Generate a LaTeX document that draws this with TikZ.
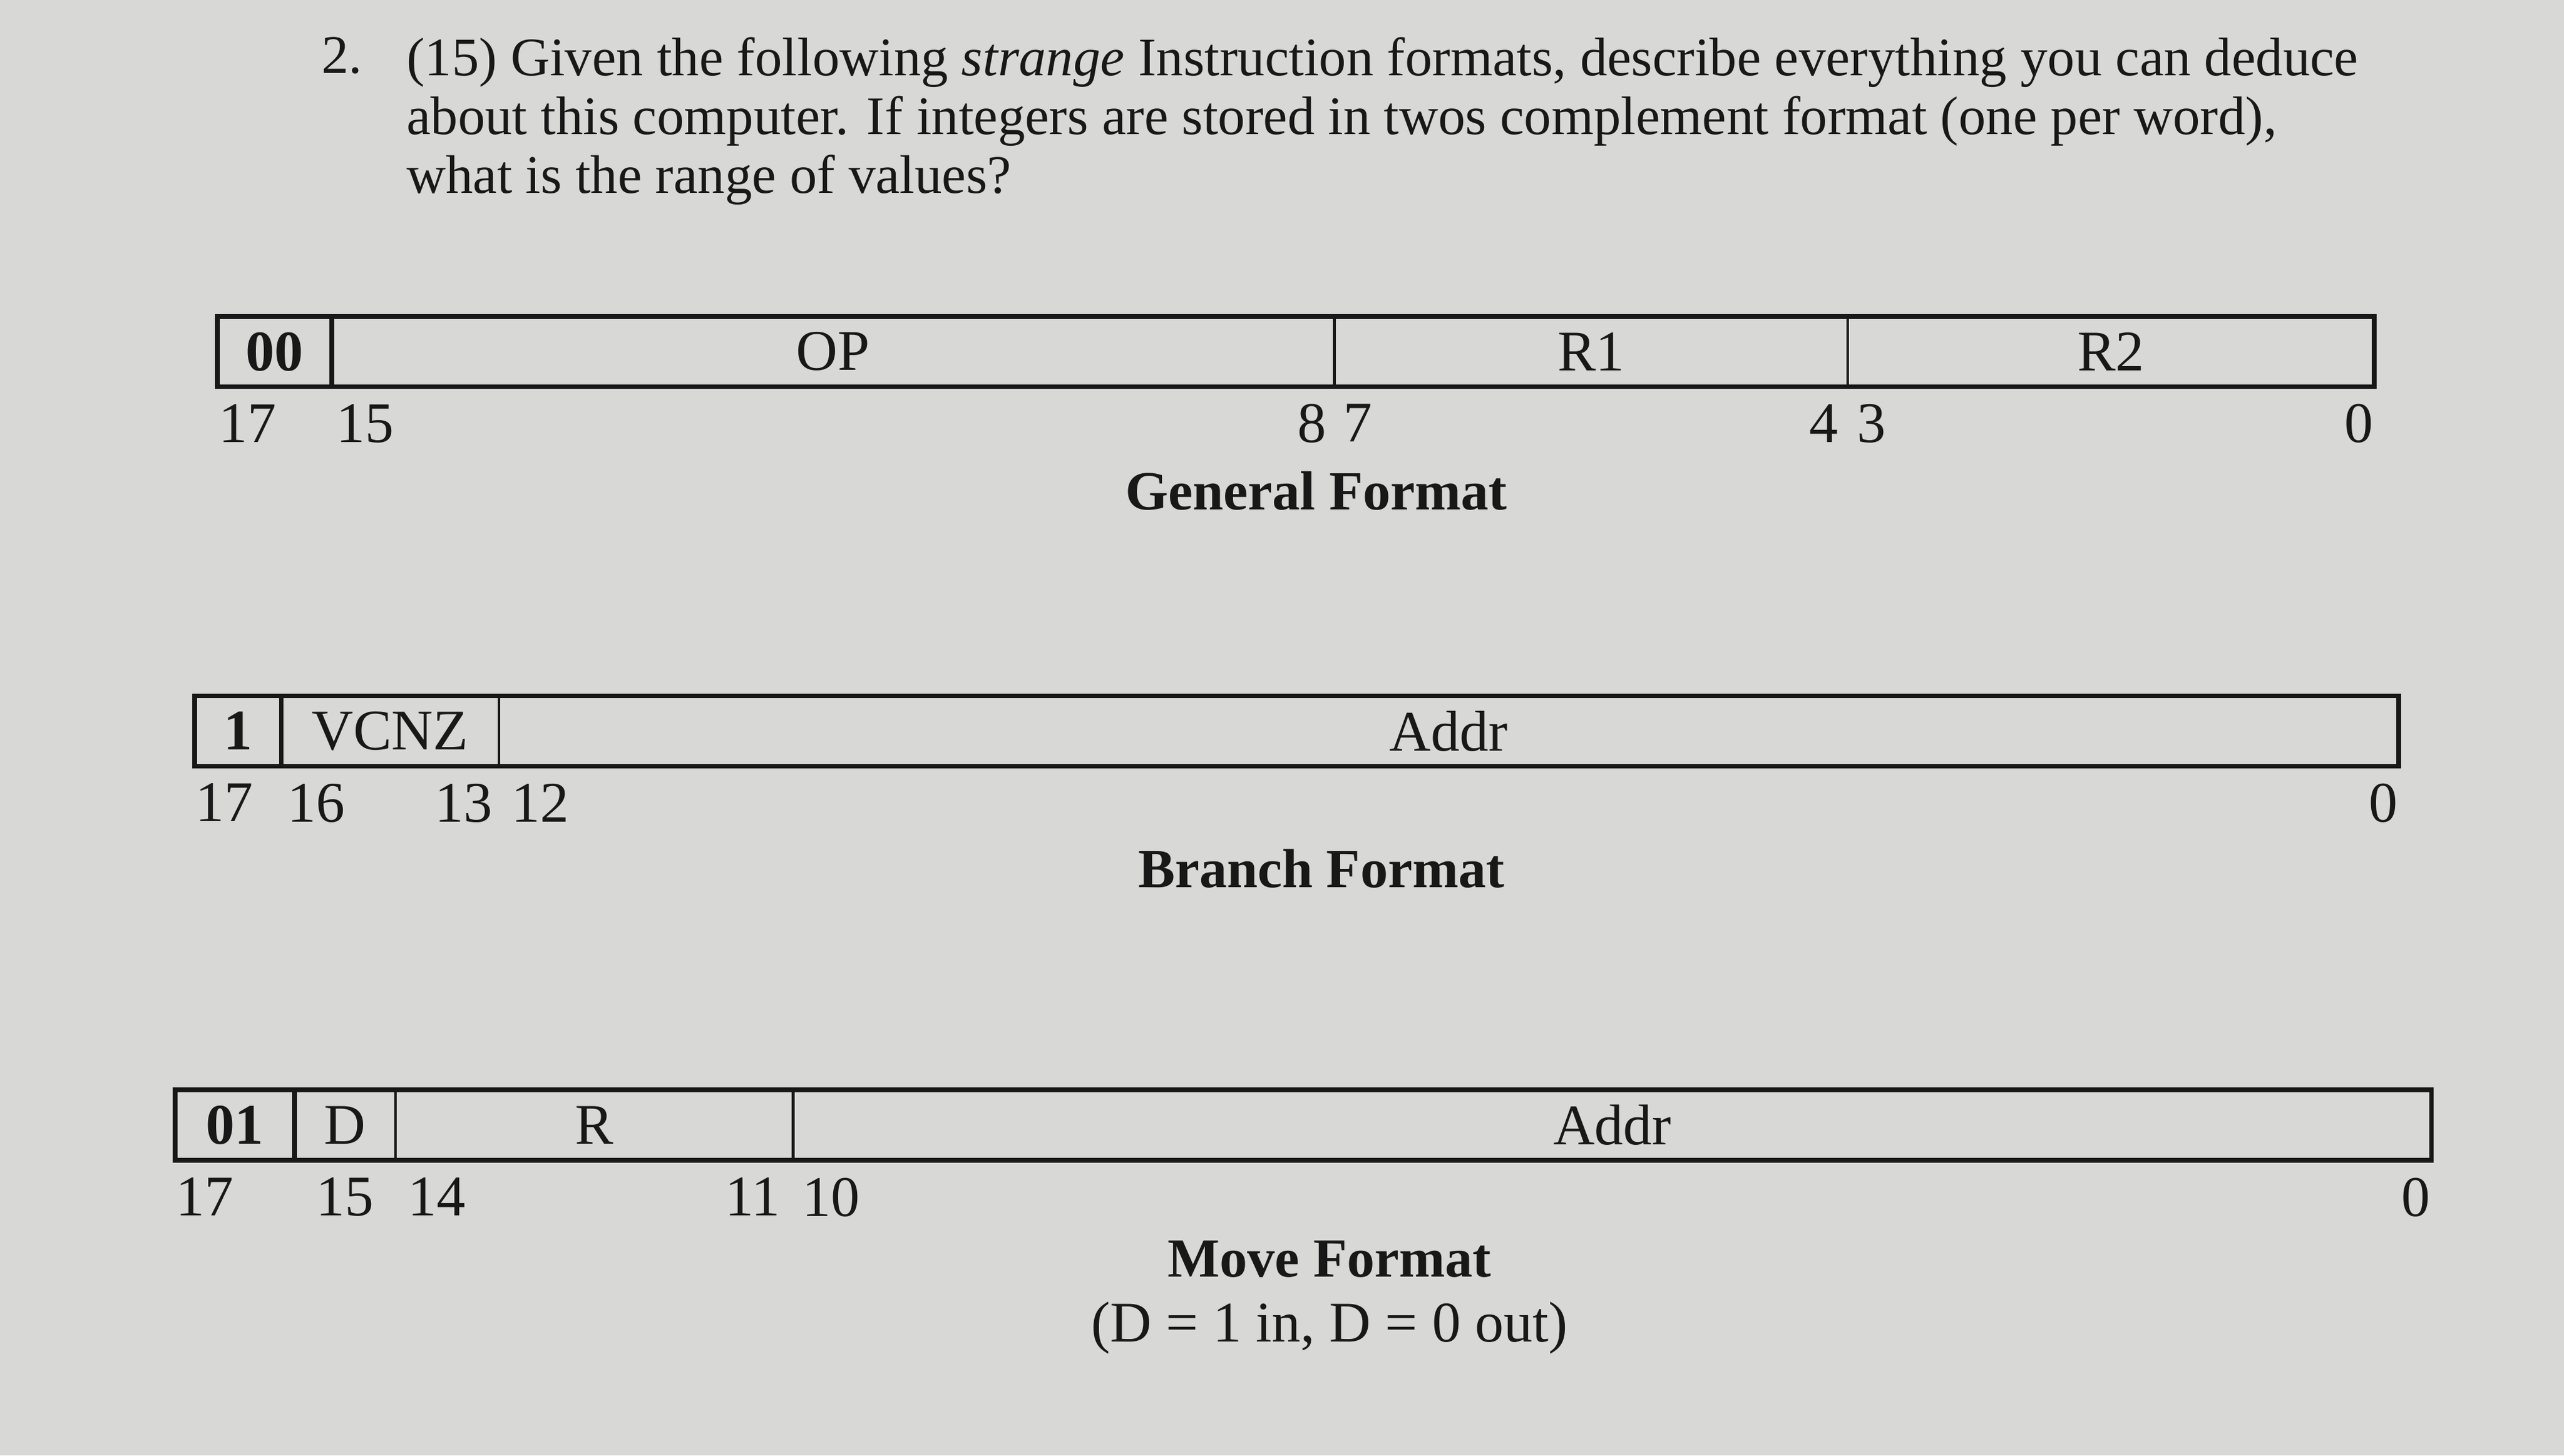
\documentclass[tikz,border=0pt]{standalone}
\usepackage{fontspec}
\setmainfont{Liberation Serif}
\usetikzlibrary{positioning}
\definecolor{paper}{RGB}{216,216,214}
\definecolor{ink}{RGB}{24,24,24}

\begin{document}
\begin{tikzpicture}[x=0.1mm,y=-0.1mm,
		field/.style={draw=ink,line width=0.45pt,minimum height=4.3mm,inner sep=0pt,outer sep=0pt,text=ink,font=\fontsize{10}{12}\selectfont},
		bit/.style={inner sep=0pt,text=ink,font=\fontsize{10}{12}\selectfont},
		caption/.style={inner sep=0pt,text=ink,font=\fontsize{9.6}{12}\selectfont\bfseries},
		frame/.style={draw=ink,line width=0.8pt}]
				\fill[paper] (0,0) rectangle (1568,890);
				\useasboundingbox (0,0) rectangle (1568,890);
				\node[bit,anchor=north west,font=\fontsize{9.45}{10.24}\selectfont] (qnum) at (196,22) {2.};
				\node[bit,anchor=north west,align=left,font=\fontsize{9.45}{10.24}\selectfont] (qtext) at (248,22) {(15) Given the following \textit{strange} Instruction formats, describe everything you can deduce\\about this computer. If integers are stored in twos complement format (one per word),\\what is the range of values?};
				\node[field,anchor=west,minimum width=7mm] (gtag) at (133,215) {\bfseries 00};
				\node[field,right=0pt of gtag,minimum width=61.3mm] (gop) {OP};
				\node[field,right=0pt of gop,minimum width=31.4mm] (gra) {R1};
				\node[field,right=0pt of gra,minimum width=32.2mm] (grb) {R2};
				\draw[frame] (gtag.north west) rectangle (grb.south east);
				\draw[frame] (gtag.north west) rectangle (gtag.south east);
				\node[bit,anchor=north west] (g17) at ([yshift=-1mm]gtag.south west) {17};
				\node[bit,anchor=north west] (g15) at ([xshift=0.2mm,yshift=-1mm]gop.south west) {15};
				\node[bit,anchor=north east] (g8) at ([xshift=-0.4mm,yshift=-1mm]gop.south east) {8};
				\node[bit,anchor=north west] (g7) at ([xshift=0.5mm,yshift=-1mm]gra.south west) {7};
				\node[bit,anchor=north east] (g4) at ([xshift=-0.5mm,yshift=-1mm]gra.south east) {4};
				\node[bit,anchor=north west] (g3) at ([xshift=0.5mm,yshift=-1mm]grb.south west) {3};
				\node[bit,anchor=north east] (g0) at ([yshift=-1mm]grb.south east) {0};
				\node[caption] (gcap) at (805,300) {General Format};
				\node[field,anchor=west,minimum width=5.3mm] (btag) at (119,447) {\bfseries 1};
				\node[field,right=0pt of btag,minimum width=13.3mm] (bflag) {VCNZ};
				\node[field,right=0pt of bflag,minimum width=116.2mm] (baddr) {Addr};
				\draw[frame] (btag.north west) rectangle (baddr.south east);
				\draw[frame] (btag.north west) rectangle (btag.south east);
				\node[bit,anchor=north west] (b17) at ([yshift=-1mm]btag.south west) {17};
				\node[bit,anchor=north west] (b16) at ([xshift=0.3mm,yshift=-1mm]bflag.south west) {16};
				\node[bit,anchor=north east] (b13) at ([xshift=-0.3mm,yshift=-1mm]bflag.south east) {13};
				\node[bit,anchor=north west] (b12) at ([xshift=0.7mm,yshift=-1mm]baddr.south west) {12};
				\node[bit,anchor=north east] (b0) at ([yshift=-1mm]baddr.south east) {0};
				\node[caption] (bcap) at (808,531) {Branch Format};
				\node[field,anchor=west,minimum width=7.3mm] (mtag) at (107,688) {\bfseries 01};
				\node[field,right=0pt of mtag,minimum width=6.2mm] (mdir) {D};
				\node[field,right=0pt of mdir,minimum width=24.3mm] (mreg) {R};
				\node[field,right=0pt of mreg,minimum width=100.2mm] (maddr) {Addr};
				\draw[frame] (mtag.north west) rectangle (maddr.south east);
				\draw[frame] (mtag.north west) rectangle (mtag.south east);
				\node[bit,anchor=north west] (m17) at ([yshift=-1mm]mtag.south west) {17};
				\node[bit,anchor=north] (m15) at ([yshift=-1mm]mdir.south) {15};
				\node[bit,anchor=north west] (m14) at ([xshift=0.7mm,yshift=-1mm]mreg.south west) {14};
				\node[bit,anchor=north east] (m11) at ([xshift=-0.7mm,yshift=-1mm]mreg.south east) {11};
				\node[bit,anchor=north west] (m10) at ([xshift=0.5mm,yshift=-1mm]maddr.south west) {10};
				\node[bit,anchor=north east] (m0) at ([yshift=-1mm]maddr.south east) {0};
				\node[caption] (mcap) at (813,770) {Move Format};
				\node[bit] (mnote) at (813,812) {(D = 1 in, D = 0 out)};
			\end{tikzpicture}
\end{document}
